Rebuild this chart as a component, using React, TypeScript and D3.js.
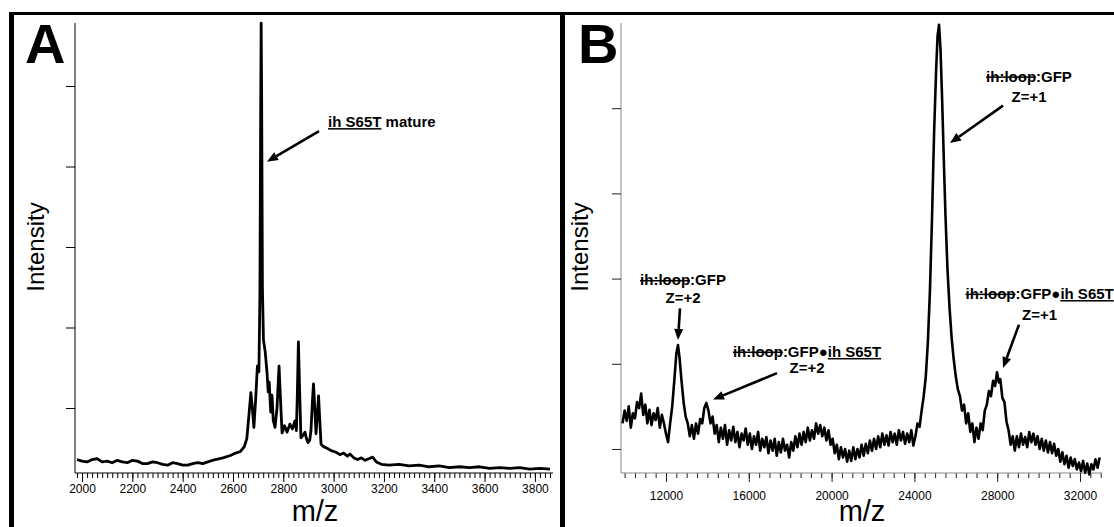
import React, { useEffect, useRef } from "react";
import * as d3 from "d3";

// Panel A spectrum: [m/z, intensity] (intensity in y-tick units)
const spectrumA: [number, number][] = [
  [1980, 0.36], [2000, 0.34], [2020, 0.33], [2040, 0.36], [2060, 0.37], [2080, 0.33], [2100, 0.34],
  [2120, 0.32], [2140, 0.35], [2160, 0.33], [2180, 0.32], [2200, 0.35], [2220, 0.34], [2240, 0.31],
  [2260, 0.31], [2280, 0.33], [2300, 0.32], [2320, 0.3], [2340, 0.29], [2360, 0.32], [2380, 0.31],
  [2400, 0.29], [2420, 0.29], [2440, 0.31], [2460, 0.32], [2480, 0.31], [2500, 0.33], [2530, 0.36],
  [2560, 0.38], [2590, 0.41], [2610, 0.44], [2630, 0.46], [2645, 0.52], [2655, 0.62], [2663, 0.9],
  [2671, 1.19], [2677, 1.0], [2683, 0.76], [2690, 1.1], [2697, 1.52], [2703, 1.45], [2707, 2.4],
  [2710, 4.6], [2712, 5.78], [2714, 4.8], [2717, 2.5], [2721, 1.85], [2728, 1.7], [2735, 1.45],
  [2740, 1.2], [2744, 1.32], [2750, 0.95], [2755, 1.16], [2760, 0.85], [2767, 0.76],
  [2775, 1.0], [2783, 1.52], [2789, 1.1], [2795, 0.69], [2805, 0.78], [2815, 0.7],
  [2826, 0.8], [2836, 0.74], [2846, 0.84], [2852, 0.72], [2856, 1.2], [2860, 1.82],
  [2865, 1.2], [2870, 0.63], [2878, 0.66], [2886, 0.7], [2892, 0.62], [2898, 0.57],
  [2905, 0.6], [2910, 0.72], [2916, 1.1], [2920, 1.3], [2925, 1.0], [2930, 0.68],
  [2935, 0.9], [2940, 1.15], [2945, 0.85], [2950, 0.55], [2960, 0.52], [2974, 0.5],
  [2990, 0.47], [3010, 0.45], [3025, 0.42], [3040, 0.44], [3055, 0.4], [3065, 0.43],
  [3080, 0.38], [3095, 0.36], [3110, 0.38], [3125, 0.35], [3140, 0.37], [3155, 0.39],
  [3170, 0.33], [3190, 0.3], [3220, 0.29], [3260, 0.3], [3300, 0.28], [3340, 0.29],
  [3380, 0.27], [3420, 0.28], [3460, 0.26], [3500, 0.27], [3540, 0.26], [3580, 0.27],
  [3620, 0.25], [3660, 0.26], [3700, 0.25], [3740, 0.26], [3780, 0.24], [3820, 0.25],
  [3860, 0.24],
];

// Panel B spectrum: [m/z, intensity]
const spectrumB: [number, number][] = [
  [9900, 1.3], [10000, 1.45], [10100, 1.33], [10200, 1.5], [10300, 1.25], [10400, 1.42],
  [10500, 1.36], [10600, 1.55], [10700, 1.48], [10800, 1.65], [10900, 1.4], [11000, 1.52],
  [11100, 1.3], [11200, 1.46], [11300, 1.28], [11400, 1.42], [11500, 1.34], [11600, 1.48],
  [11700, 1.25], [11800, 1.4], [11900, 1.3], [12000, 1.18], [12100, 1.08], [12200, 1.3],
  [12300, 1.5], [12400, 1.8], [12500, 2.12], [12580, 2.22], [12650, 2.08], [12750, 1.8],
  [12850, 1.55], [12950, 1.38], [13050, 1.3], [13150, 1.15], [13250, 1.28], [13350, 1.12],
  [13450, 1.3], [13550, 1.18], [13650, 1.35], [13750, 1.3], [13850, 1.48], [13950, 1.54],
  [14050, 1.45], [14150, 1.3], [14250, 1.38], [14350, 1.18], [14450, 1.28], [14550, 1.08],
  [14650, 1.25], [14750, 1.12], [14850, 1.28], [14950, 1.05], [15050, 1.22], [15150, 1.1],
  [15250, 1.26], [15350, 1.08], [15450, 1.2], [15550, 1.02], [15650, 1.18], [15750, 1.1],
  [15850, 1.24], [15950, 1.05], [16050, 1.18], [16150, 1.0], [16250, 1.15], [16350, 1.05],
  [16450, 1.2], [16550, 0.98], [16650, 1.12], [16750, 1.02], [16850, 1.14], [16950, 0.95],
  [17050, 1.1], [17150, 0.98], [17250, 1.12], [17350, 0.92], [17450, 1.08], [17550, 0.96],
  [17650, 1.12], [17750, 0.98], [17850, 1.05], [17950, 0.9], [18050, 1.08], [18150, 0.98],
  [18250, 1.15], [18350, 1.02], [18450, 1.18], [18550, 1.05], [18650, 1.2], [18750, 1.08],
  [18850, 1.25], [18950, 1.1], [19050, 1.22], [19150, 1.12], [19250, 1.3], [19350, 1.18],
  [19450, 1.28], [19550, 1.15], [19650, 1.25], [19750, 1.1], [19850, 1.22], [19950, 1.05],
  [20050, 1.12], [20150, 0.95], [20250, 1.05], [20350, 0.88], [20450, 1.02], [20550, 0.9],
  [20650, 1.0], [20750, 0.85], [20850, 0.98], [20950, 0.86], [21050, 1.02], [21150, 0.88],
  [21250, 1.0], [21350, 0.9], [21450, 1.05], [21550, 0.92], [21650, 1.06], [21750, 0.95],
  [21850, 1.1], [21950, 0.98], [22050, 1.12], [22150, 1.0], [22250, 1.15], [22350, 1.02],
  [22450, 1.18], [22550, 1.05], [22650, 1.16], [22750, 1.04], [22850, 1.2], [22950, 1.08],
  [23050, 1.18], [23150, 1.05], [23250, 1.22], [23350, 1.1], [23450, 1.2], [23550, 1.06],
  [23650, 1.18], [23750, 1.08], [23850, 1.22], [23950, 1.04], [24050, 1.15], [24150, 1.3],
  [24250, 1.26], [24350, 1.45], [24450, 1.62], [24550, 1.85], [24650, 2.25], [24750, 2.85],
  [24850, 3.7], [24950, 4.7], [25050, 5.45], [25120, 5.85], [25190, 5.98], [25260, 5.7],
  [25340, 5.1], [25420, 4.4], [25500, 3.75], [25600, 3.1], [25700, 2.65], [25800, 2.3],
  [25900, 2.05], [26000, 1.85], [26100, 1.7], [26200, 1.62], [26300, 1.45], [26400, 1.52],
  [26500, 1.3], [26600, 1.42], [26700, 1.2], [26800, 1.3], [26900, 1.08], [27000, 1.25],
  [27100, 1.12], [27200, 1.3], [27300, 1.22], [27400, 1.45], [27500, 1.52], [27600, 1.68],
  [27700, 1.62], [27800, 1.8], [27900, 1.74], [27990, 1.9], [28080, 1.78], [28150, 1.82],
  [28250, 1.6], [28350, 1.55], [28450, 1.32], [28550, 1.22], [28650, 1.05], [28750, 1.15],
  [28850, 0.98], [28950, 1.15], [29050, 1.02], [29150, 1.18], [29250, 1.05], [29350, 1.14],
  [29450, 1.02], [29550, 1.2], [29650, 1.08], [29750, 1.18], [29850, 1.05], [29950, 1.15],
  [30050, 1.0], [30150, 1.12], [30250, 0.98], [30350, 1.1], [30450, 0.96], [30550, 1.08],
  [30650, 0.95], [30750, 1.06], [30850, 0.92], [30950, 1.0], [31050, 0.85], [31150, 0.96],
  [31250, 0.82], [31350, 0.92], [31450, 0.78], [31550, 0.9], [31650, 0.8], [31750, 0.88],
  [31850, 0.76], [31950, 0.84], [32050, 0.74], [32150, 0.86], [32250, 0.72], [32350, 0.83],
  [32450, 0.7], [32550, 0.82], [32650, 0.76], [32750, 0.88], [32850, 0.78], [32950, 0.9],
];

const xTicksA = [2000, 2200, 2400, 2600, 2800, 3000, 3200, 3400, 3600, 3800];
const xTicksB = [12000, 16000, 20000, 24000, 28000, 32000];
const yTicks = [1, 2, 3, 4, 5];

type Part = { t: string; deco?: string };
type Note = {
  x: number; // m/z of text (centre, or start if anchor start)
  anchor: string;
  lines: { y: number; parts: Part[] }[];
  from: [number, number];
  to: [number, number];
};

const notesA: Note[] = [
  {
    x: 2978,
    anchor: "start",
    lines: [{ y: 4.49, parts: [{ t: "ih S65T", deco: "underline" }, { t: " mature" }] }],
    from: [2942, 4.44],
    to: [2735, 4.06],
  },
];

const notesB: Note[] = [
  {
    x: 12821,
    anchor: "middle",
    lines: [
      { y: 2.92, parts: [{ t: "ih:loop", deco: "line-through" }, { t: ":GFP" }] },
      { y: 2.71, parts: [{ t: "Z=+2" }] },
    ],
    from: [12676, 2.65],
    to: [12580, 2.28],
  },
  {
    x: 18812,
    anchor: "middle",
    lines: [
      { y: 2.08, parts: [{ t: "ih:loop", deco: "line-through" }, { t: ":GFP●" }, { t: "ih S65T", deco: "underline" }] },
      { y: 1.89, parts: [{ t: "Z=+2" }] },
    ],
    from: [17362, 1.89],
    to: [14271, 1.58],
  },
  {
    x: 29536,
    anchor: "middle",
    lines: [
      { y: 5.31, parts: [{ t: "ih:loop", deco: "line-through" }, { t: ":GFP" }] },
      { y: 5.07, parts: [{ t: "Z=+1" }] },
    ],
    from: [28281, 5.03],
    to: [25720, 4.59],
  },
  {
    x: 30050,
    anchor: "middle",
    lines: [
      { y: 2.76, parts: [{ t: "ih:loop", deco: "line-through" }, { t: ":GFP●" }, { t: "ih S65T", deco: "underline" }] },
      { y: 2.51, parts: [{ t: "Z=+1" }] },
    ],
    from: [29053, 2.46],
    to: [28281, 1.95],
  },
];

const FONT = "'Liberation Sans', Arial, Helvetica, sans-serif";

function drawPanel(svg: any, o: any) {
  const x = d3.scaleLinear().domain(o.xDomain).range(o.xRange);
  const y = d3.scaleLinear().domain(o.yDomain).range([473, 23]);
  const g = svg.append("g");

  // minor x ticks
  g.append("g")
    .attr("transform", "translate(0,473)")
    .call(d3.axisBottom(x).tickValues(o.minor).tickSize(5).tickFormat(() => ""))
    .call((s: any) => s.select(".domain").remove())
    .call((s: any) => s.selectAll("line").attr("stroke", o.tickColor));

  // major x ticks with labels
  const xa = g.append("g")
    .attr("transform", "translate(0,473)")
    .call(d3.axisBottom(x).tickValues(o.xTicks).tickSize(9).tickPadding(4).tickFormat(d3.format("d")));
  xa.select(".domain").attr("stroke", o.axisColor).attr("d", `M${o.xRange[0]},0H${o.xRange[1]}`);
  xa.selectAll("line").attr("stroke", o.tickColor);
  xa.selectAll("text").attr("font-family", FONT).attr("font-size", 12).attr("fill", "#000").attr("dy", o.labelDy);

  // y axis
  const ya = g.append("g")
    .attr("transform", `translate(${o.xRange[0]},0)`)
    .call(d3.axisLeft(y).tickValues(yTicks).tickSize(9).tickFormat(() => ""));
  ya.select(".domain").attr("stroke", o.axisColor).attr("d", "M0,23V473");
  ya.selectAll("line").attr("stroke", o.tickColor);

  // spectrum
  const line = d3.line<[number, number]>().x((d) => x(d[0])).y((d) => y(d[1]));
  g.append("path")
    .datum(o.data)
    .attr("d", line)
    .attr("fill", "none")
    .attr("stroke", "#000")
    .attr("stroke-width", o.lineWidth)
    .attr("stroke-linejoin", "round");

  // axis titles and panel letter
  g.append("text")
    .attr("transform", `translate(${o.yTitleX},247) rotate(-90)`)
    .attr("text-anchor", "middle")
    .attr("font-family", FONT)
    .attr("font-size", 24)
    .text("Intensity");
  g.append("text")
    .attr("x", o.xTitleX)
    .attr("y", 521)
    .attr("text-anchor", "middle")
    .attr("font-family", FONT)
    .attr("font-size", 29)
    .text("m/z");
  g.append("text")
    .attr("x", o.letterX)
    .attr("y", 63)
    .attr("font-family", FONT)
    .attr("font-weight", "bold")
    .attr("font-size", 56)
    .text(o.letter);

  // annotations
  o.notes.forEach((n: Note) => {
    n.lines.forEach((ln) => {
      const t = g.append("text")
        .attr("x", x(n.x))
        .attr("y", y(ln.y))
        .attr("text-anchor", n.anchor)
        .attr("font-family", FONT)
        .attr("font-weight", "bold")
        .attr("font-size", 15);
      ln.parts.forEach((p) => {
        const ts = t.append("tspan").text(p.t);
        if (p.deco) ts.style("text-decoration", p.deco);
      });
    });
    const x1 = x(n.from[0]), y1 = y(n.from[1]);
    const x2 = x(n.to[0]), y2 = y(n.to[1]);
    const ang = Math.atan2(y2 - y1, x2 - x1);
    const hl = 11, hw = 4.5;
    const bx = x2 - hl * Math.cos(ang), by = y2 - hl * Math.sin(ang);
    g.append("line")
      .attr("x1", x1).attr("y1", y1).attr("x2", bx).attr("y2", by)
      .attr("stroke", "#000").attr("stroke-width", 2.6);
    g.append("path")
      .attr("d", `M${x2},${y2}L${bx + hw * Math.sin(ang)},${by - hw * Math.cos(ang)}L${bx - hw * Math.sin(ang)},${by + hw * Math.cos(ang)}Z`)
      .attr("fill", "#000");
  });
}

export default function App() {
  const ref = useRef<SVGSVGElement>(null);

  useEffect(() => {
    const svg = d3.select(ref.current);
    svg.selectAll("*").remove();

    svg.append("rect").attr("width", 1114).attr("height", 527).attr("fill", "#fff");

    drawPanel(svg, {
      xDomain: [1972, 3872],
      xRange: [75, 553],
      yDomain: [0.1925, 5.783],
      xTicks: xTicksA,
      minor: d3.range(1980, 3872, 20),
      data: spectrumA,
      axisColor: "#000",
      tickColor: "#000",
      labelDy: "0.55em",
      lineWidth: 2.8,
      yTitleX: 44,
      xTitleX: 315,
      letterX: 25,
      letter: "A",
      notes: notesA,
    });

    drawPanel(svg, {
      xDomain: [9826, 33063],
      xRange: [621, 1102],
      yDomain: [0.718, 6.0],
      xTicks: xTicksB,
      minor: d3.range(10000, 33001, 500),
      data: spectrumB,
      axisColor: "#888",
      tickColor: "#222",
      labelDy: "1.2em",
      lineWidth: 2.6,
      yTitleX: 588,
      xTitleX: 862,
      letterX: 578,
      letter: "B",
      notes: notesB,
    });

    // frame
    svg.append("rect").attr("x", 9).attr("y", 12).attr("width", 1105).attr("height", 3).attr("fill", "#000");
    svg.append("rect").attr("x", 9).attr("y", 12).attr("width", 5).attr("height", 515).attr("fill", "#000");
    svg.append("rect").attr("x", 560).attr("y", 12).attr("width", 5).attr("height", 515).attr("fill", "#000");
  }, []);

  return (
    <svg
      ref={ref}
      width={1114}
      height={527}
      style={{ position: "absolute", left: 0, top: 0, display: "block" }}
    />
  );
}
